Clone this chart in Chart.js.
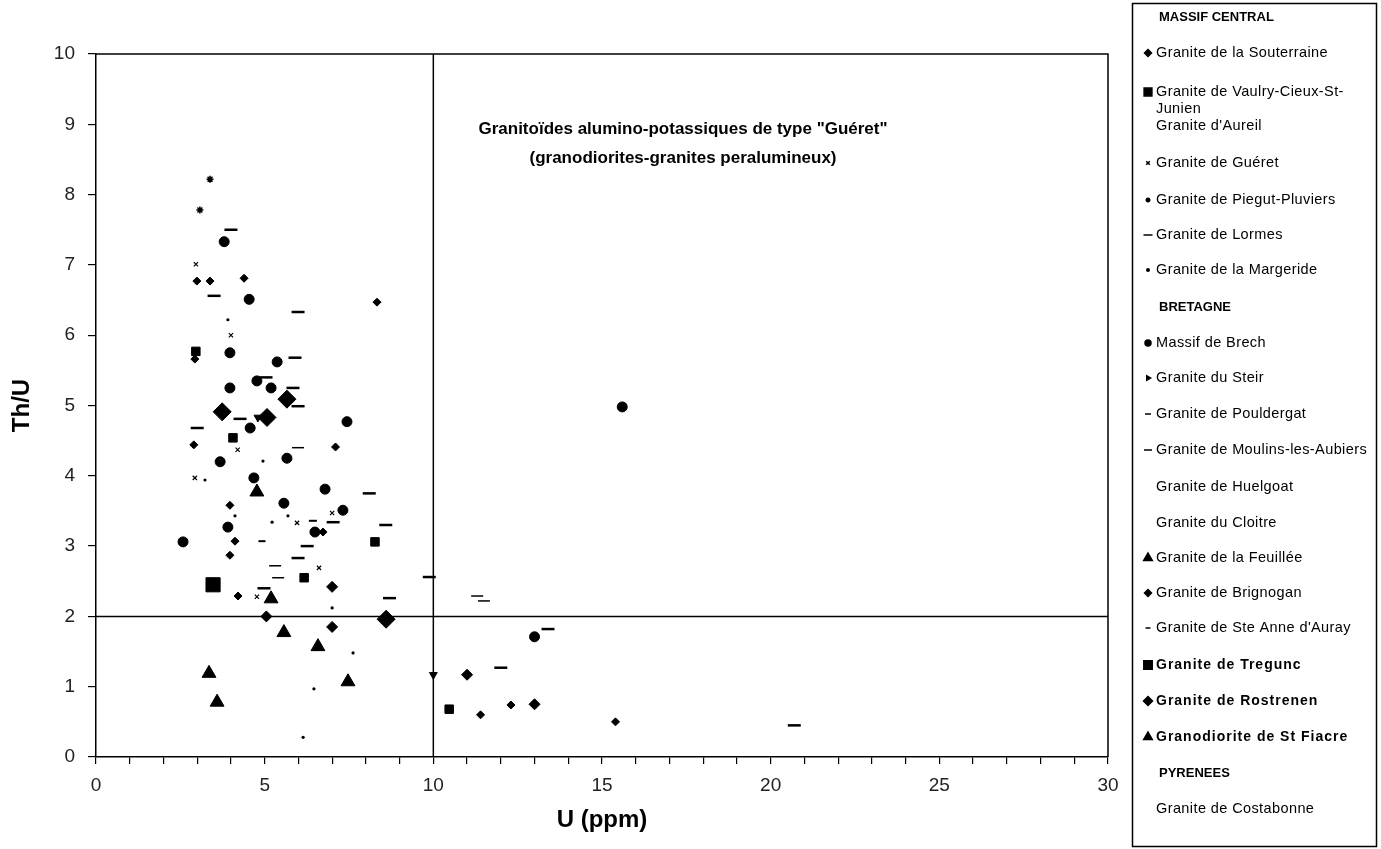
<!DOCTYPE html>
<html>
<head>
<meta charset="utf-8">
<script src="https://cdn.jsdelivr.net/npm/chart.js@4.4.0/dist/chart.umd.min.js"></script>
<style>
  body { margin: 0; background: #fff; }
</style>
</head>
<body>
<canvas id="chart" width="1381" height="849"></canvas>
<script>
// points are [U (ppm), Th/U]
// MASSIF CENTRAL
var souterraine = [[2.99, 6.77], [3.38, 6.77], [4.39, 6.81], [8.33, 6.47], [2.93, 5.66], [2.9, 4.44], [7.1, 4.41],
  [3.97, 3.58], [6.73, 3.2], [4.12, 3.07], [3.97, 2.87], [4.21, 2.29], [12.3, 0.74], [11.4, 0.6], [15.4, 0.5]]
var vaulry = [[2.96, 5.77], [4.06, 4.54], [6.17, 2.55], [8.27, 3.06], [10.47, 0.68]]
var aureil = []
var gueret = [[2.96, 7.01], [4.0, 6.0], [4.2, 4.37], [2.93, 3.97], [7.0, 3.47], [5.96, 3.33], [6.61, 2.69], [4.77, 2.28]]
var piegut = [[3.38, 8.22], [3.08, 7.78]]
var lormes = [[4.0, 7.5], [3.5, 6.56], [5.99, 6.33], [5.9, 5.68], [5.84, 5.25], [5.04, 5.4], [5.99, 4.99], [4.27, 4.81],
  [3.0, 4.68], [8.1, 3.75], [7.03, 3.34], [8.59, 3.3], [6.26, 3.0], [5.99, 2.83], [4.98, 2.4], [8.7, 2.26],
  [9.88, 2.56], [13.4, 1.82], [12.0, 1.27], [20.7, 0.45]]
var margeride = [[3.91, 6.22], [4.95, 4.21], [3.23, 3.94], [5.69, 3.43], [4.12, 3.43], [5.22, 3.34], [7.0, 2.12],
  [7.62, 1.48], [6.46, 0.97], [6.14, 0.28]]
// BRETAGNE
var brech = [[3.8, 7.33], [4.54, 6.51], [3.97, 5.75], [5.37, 5.62], [4.77, 5.35], [3.97, 5.25], [5.19, 5.25],
  [4.57, 4.68], [7.44, 4.77], [3.68, 4.2], [5.66, 4.25], [4.68, 3.97], [6.79, 3.81], [5.57, 3.61], [7.32, 3.51],
  [3.91, 3.27], [6.49, 3.2], [2.58, 3.06], [13.0, 1.71], [15.6, 4.98]]
var steir = [[4.8, 4.83], [10.0, 1.17]]
var pouldergat = [[6.43, 3.36]]
var moulins = [[5.99, 4.4], [5.31, 2.72], [5.4, 2.55], [11.3, 2.29], [11.5, 2.22]]
var huelgoat = []
var cloitre = []
var feuillee = []
var brignogan = [[7.0, 2.42], [7.0, 1.85], [5.05, 2.0], [11.0, 1.17], [13.0, 0.75]]
var steAnne = [[4.92, 3.07]]
var tregunc = [[3.47, 2.45]]
var rostrenen = [[3.74, 4.91], [5.07, 4.83], [5.66, 5.09], [8.6, 1.96]]
var stFiacre = [[4.77, 3.77], [5.19, 2.25], [5.57, 1.77], [6.58, 1.57], [7.47, 1.07], [3.35, 1.19], [3.59, 0.78]]
// PYRENEES
var costabonne = []

// limit lines
var limitU = [[10, 0], [10, 10]]
var limitThU = [[0, 2], [30, 2]]

var xTicks = [0, 5, 10, 15, 20, 25, 30]
var titleLines = ['Granitoïdes alumino-potassiques de type "Guéret"', '(granodiorites-granites peralumineux)']

var FONT = "'Liberation Sans', Arial, sans-serif"

// label, data, pointStyle, radius, borderWidth, rotation, legend radius
var series = [
  ['Granite de la Souterraine', souterraine, 'rectRot', 4, 1, 0, 3.5],
  ['Granite de Vaulry-Cieux-St-Junien', vaulry, 'rect', 6, 1, 0, 5.5],
  ["Granite d'Aureil", aureil, false, 0, 0, 0, 0],
  ['Granite de Guéret', gueret, 'crossRot', 3, 1.2, 0, 2.5],
  ['Granite de Piegut-Pluviers', piegut, 'star', 3.5, 1.5, 0, 2.5],
  ['Granite de Lormes', lormes, 'line', 6.5, 2.5, 0, 4.5],
  ['Granite de la Margeride', margeride, 'circle', 1.6, 0, 0, 2],
  ['Massif de Brech', brech, 'circle', 5, 1, 0, 3],
  ['Granite du Steir', steir, 'triangle', 4.5, 1, 180, 2.5],
  ['Granite de Pouldergat', pouldergat, 'line', 4, 2, 0, 3],
  ['Granite de Moulins-les-Aubiers', moulins, 'line', 6, 1.5, 0, 4],
  ['Granite de Huelgoat', huelgoat, false, 0, 0, 0, 0],
  ['Granite du Cloitre', cloitre, false, 0, 0, 0, 0],
  ['Granite de la Feuillée', feuillee, 'triangle', 6, 1, 0, 5],
  ['Granite de Brignogan', brignogan, 'rectRot', 5.5, 1, 0, 3.5],
  ["Granite de Ste Anne d'Auray", steAnne, 'line', 3.5, 2, 0, 2.5],
  ['Granite de Tregunc', tregunc, 'rect', 10, 1, 0, 6],
  ['Granite de Rostrenen', rostrenen, 'rectRot', 9, 1, 0, 4.5],
  ['Granodiorite de St Fiacre', stFiacre, 'triangle', 8, 1, 0, 5],
  ['Granite de Costabonne', costabonne, false, 0, 0, 0, 0]
]

// legend rows: text, row centre, kind (head / bold / plain / cont), series label
var legendRows = [
  ['MASSIF CENTRAL', 17, 'head'],
  ['Granite de la Souterraine', 53, 'plain', 'Granite de la Souterraine'],
  ['Granite de Vaulry-Cieux-St-', 92, 'plain', 'Granite de Vaulry-Cieux-St-Junien'],
  ['Junien', 109, 'cont'],
  ["Granite d'Aureil", 126, 'cont'],
  ['Granite de Guéret', 163, 'plain', 'Granite de Guéret'],
  ['Granite de Piegut-Pluviers', 200, 'plain', 'Granite de Piegut-Pluviers'],
  ['Granite de Lormes', 235, 'plain', 'Granite de Lormes'],
  ['Granite de la Margeride', 270, 'plain', 'Granite de la Margeride'],
  ['BRETAGNE', 307, 'head'],
  ['Massif de Brech', 343, 'plain', 'Massif de Brech'],
  ['Granite du Steir', 378, 'plain', 'Granite du Steir'],
  ['Granite de Pouldergat', 414, 'plain', 'Granite de Pouldergat'],
  ['Granite de Moulins-les-Aubiers', 450, 'plain', 'Granite de Moulins-les-Aubiers'],
  ['Granite de Huelgoat', 487, 'plain'],
  ['Granite du Cloitre', 523, 'plain'],
  ['Granite de la Feuillée', 558, 'plain', 'Granite de la Feuillée'],
  ['Granite de Brignogan', 593, 'plain', 'Granite de Brignogan'],
  ["Granite de Ste Anne d'Auray", 628, 'plain', "Granite de Ste Anne d'Auray"],
  ['Granite de Tregunc', 665, 'bold', 'Granite de Tregunc'],
  ['Granite de Rostrenen', 701, 'bold', 'Granite de Rostrenen'],
  ['Granodiorite de St Fiacre', 737, 'bold', 'Granodiorite de St Fiacre'],
  ['PYRENEES', 773, 'head'],
  ['Granite de Costabonne', 809, 'plain']
]

function toXY(pts) {
  return pts.map(function (p) { return { x: p[0], y: p[1] } })
}

var datasets = series.map(function (s) {
  return {
    type: 'scatter',
    label: s[0],
    data: toXY(s[1]),
    pointStyle: s[2] || 'circle',
    pointRadius: s[3],
    pointHoverRadius: s[3],
    pointBorderWidth: s[4],
    pointRotation: s[5],
    backgroundColor: '#000',
    borderColor: '#000'
  }
})

datasets.push({
  type: 'scatter', label: 'limitU', data: toXY(limitU), showLine: true,
  borderColor: '#000', borderWidth: 1.5, pointRadius: 0
})
datasets.push({
  type: 'scatter', label: 'limitThU', data: toXY(limitThU), showLine: true,
  borderColor: '#000', borderWidth: 1.5, pointRadius: 0
})

var framePlugin = {
  id: 'frame',
  afterDraw: function (chart) {
    var ctx = chart.ctx
    var a = chart.chartArea
    ctx.save()
    ctx.strokeStyle = '#000'
    ctx.lineWidth = 1.5
    ctx.beginPath()
    ctx.moveTo(a.left, a.top)
    ctx.lineTo(a.right, a.top)
    ctx.lineTo(a.right, a.bottom)
    ctx.stroke()

    // text inside the plot
    ctx.fillStyle = '#000'
    ctx.font = 'bold 17px ' + FONT
    ctx.textAlign = 'center'
    ctx.textBaseline = 'middle'
    ctx.fillText(titleLines[0], 683, 129)
    ctx.fillText(titleLines[1], 683, 158)

    // legend box
    ctx.lineWidth = 1.5
    ctx.strokeRect(1132.5, 3.5, 244, 843)
    ctx.textAlign = 'left'
    legendRows.forEach(function (r) {
      var kind = r[2]
      ctx.letterSpacing = '0px'
      if (kind === 'head') {
        ctx.font = 'bold 13px ' + FONT
        ctx.fillText(r[0], 1159, r[1])
        return
      }
      if (kind === 'bold') {
        ctx.font = 'bold 14px ' + FONT
        ctx.letterSpacing = '1px'
      } else {
        ctx.font = '14.5px ' + FONT
        ctx.letterSpacing = '0.4px'
      }
      ctx.fillText(r[0], 1156, r[1])
      if (r[3]) {
        var s = series.find(function (q) { return q[0] === r[3] })
        if (s && s[2]) {
          ctx.letterSpacing = '0px'
          Chart.helpers.drawPoint(ctx, {
            pointStyle: s[2], radius: s[6], borderWidth: s[4], rotation: s[2] === 'triangle' && s[5] ? 90 : 0
          }, 1148, r[1])
        }
      }
    })
    ctx.restore()
  }
}

new Chart(document.getElementById('chart'), {
  type: 'scatter',
  data: { datasets: datasets },
  plugins: [framePlugin],
  options: {
    responsive: false,
    animation: false,
    layout: { padding: { top: 54, right: 273, left: 0, bottom: 0 } },
    plugins: { legend: { display: false }, tooltip: { enabled: false } },
    scales: {
      x: {
        type: 'linear', min: 0, max: 30,
        afterFit: function (s) { s.height = 92 },
        ticks: {
          stepSize: 1, autoSkip: false, maxRotation: 0, padding: 10, color: '#222',
          font: { family: FONT, size: 19 },
          callback: function (v) { return xTicks.indexOf(v) >= 0 ? String(v) : '' }
        },
        grid: { drawOnChartArea: false, drawTicks: true, tickLength: 7, color: '#000', lineWidth: 1.2 },
        border: { display: true, color: '#000', width: 1.5 },
        title: {
          display: true, text: 'U (ppm)', color: '#000',
          font: { family: FONT, size: 24, weight: 'bold' },
          padding: { top: 0, bottom: 14 }
        }
      },
      y: {
        type: 'linear', min: 0, max: 10,
        afterFit: function (s) { s.width = 96 },
        ticks: { stepSize: 1, padding: 13, color: '#222', font: { family: FONT, size: 19 } },
        grid: { drawOnChartArea: false, drawTicks: true, tickLength: 8, color: '#000', lineWidth: 1.2 },
        border: { display: true, color: '#000', width: 1.5 },
        title: {
          display: true, text: 'Th/U', color: '#000',
          font: { family: FONT, size: 24, weight: 'bold' },
          padding: { top: 8, bottom: 0 }
        }
      }
    }
  }
})
</script>
</body>
</html>
